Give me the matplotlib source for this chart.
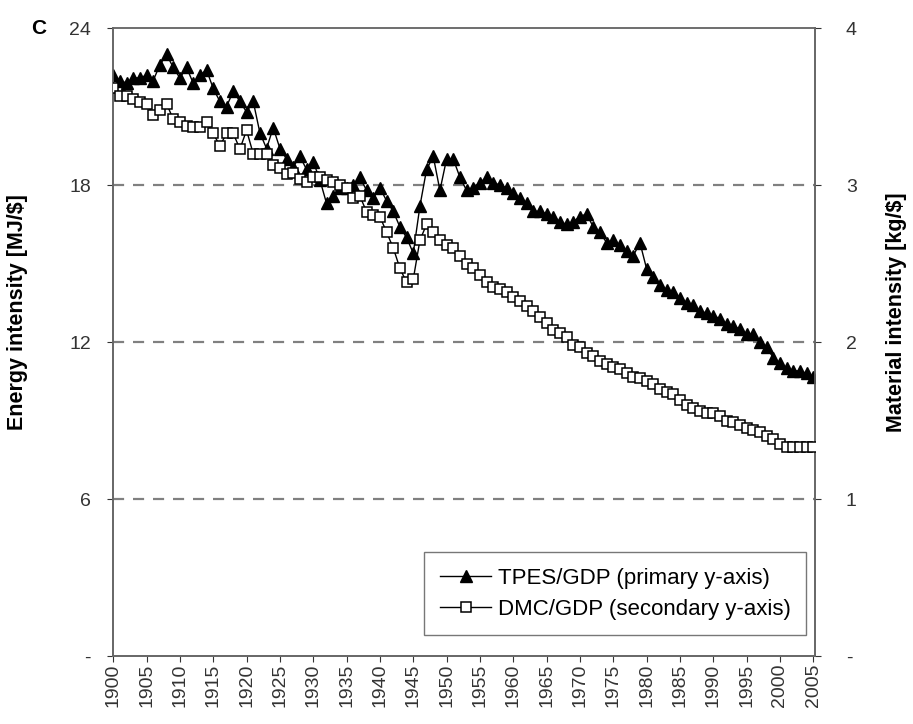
import matplotlib.pyplot as plt
import matplotlib.ticker as mticker

plt.switch_backend('Agg')
plt.rcParams['font.family'] = ['Liberation Sans', 'DejaVu Sans']

years = list(range(1900, 2006))

# TPES/GDP, energy intensity [MJ/$] (primary axis)
tpes_gdp = [
    22.2, 22.0, 21.9, 22.1, 22.1, 22.2, 22.0, 22.6, 23.0, 22.5,
    22.1, 22.5, 21.9, 22.2, 22.4, 21.7, 21.2, 21.0, 21.6, 21.2,
    20.8, 21.2, 20.0, 19.4, 20.2, 19.4, 19.0, 18.7, 19.1, 18.6,
    18.9, 18.2, 17.3, 17.6, 17.9, 17.9, 18.0, 18.3, 17.8, 17.5,
    17.9, 17.4, 17.0, 16.4, 16.0, 15.4, 17.2, 18.6, 19.1, 17.8,
    19.0, 19.0, 18.3, 17.8, 17.9, 18.1, 18.3, 18.1, 18.0, 17.9,
    17.7, 17.5, 17.3, 17.0, 17.0, 16.9, 16.8, 16.6, 16.5, 16.6,
    16.8, 16.9, 16.4, 16.2, 15.8, 15.9, 15.7, 15.5, 15.3, 15.8,
    14.8, 14.5, 14.2, 14.0, 13.9, 13.7, 13.5, 13.4, 13.2, 13.1,
    13.0, 12.9, 12.7, 12.6, 12.5, 12.3, 12.3, 12.0, 11.8, 11.4,
    11.2, 11.0, 10.9, 10.9, 10.8, 10.65,
]

# DMC/GDP, material intensity [kg/$] (secondary axis)
dmc_gdp = [
    3.62, 3.57, 3.57, 3.55, 3.53, 3.52, 3.45, 3.48, 3.52, 3.42,
    3.40, 3.38, 3.37, 3.37, 3.40, 3.33, 3.25, 3.33, 3.33, 3.23,
    3.35, 3.20, 3.20, 3.20, 3.13, 3.11, 3.07, 3.08, 3.04, 3.02,
    3.05, 3.05, 3.03, 3.02, 3.00, 2.98, 2.92, 2.93, 2.83, 2.81,
    2.80, 2.70, 2.60, 2.47, 2.38, 2.40, 2.65, 2.75, 2.70, 2.65,
    2.62, 2.60, 2.55, 2.50, 2.47, 2.43, 2.38, 2.35, 2.34, 2.32,
    2.29, 2.26, 2.23, 2.20, 2.16, 2.12, 2.08, 2.06, 2.03, 1.98,
    1.97, 1.93, 1.91, 1.88, 1.86, 1.84, 1.83, 1.80, 1.78, 1.77,
    1.75, 1.73, 1.70, 1.68, 1.67, 1.63, 1.60, 1.58, 1.56, 1.55,
    1.55, 1.53, 1.50, 1.49, 1.47, 1.45, 1.44, 1.43, 1.40, 1.38,
    1.35, 1.33, 1.33, 1.33, 1.33, 1.33,
]

energy_ticks = [0, 6, 12, 18, 24]
material_ticks = [0, 1, 2, 3, 4]
year_ticks = list(range(1900, 2006, 5))


def dash_zero(v, pos):
    # Excel-style: zero shown as a dash
    return '-' if v == 0 else f'{v:.0f}'


fig = plt.figure(figsize=(9.13, 7.24), dpi=100)
ax1 = fig.add_axes([0.124, 0.094, 0.769, 0.867])
ax2 = ax1.twinx()

# Dashed gridlines at 6, 12, 18
for v in energy_ticks[1:-1]:
    ax1.axhline(v, color='#808080', linestyle=(0, (5, 4)), linewidth=1.6, zorder=0)

ax1.plot(years, tpes_gdp, color='black', linewidth=1.0, marker='^',
         markersize=8.5, markerfacecolor='black', markeredgecolor='black',
         label='TPES/GDP (primary y-axis)', zorder=3)
ax2.plot(years, dmc_gdp, color='black', linewidth=1.0, marker='s',
         markersize=7, markerfacecolor='white', markeredgecolor='black',
         markeredgewidth=1.1, label='DMC/GDP (secondary y-axis)', zorder=3)

ax1.set_xlim(1900, 2005.3)
ax1.set_ylim(0, 24)
ax2.set_ylim(0, 4)

ax1.set_yticks(energy_ticks)
ax1.yaxis.set_major_formatter(mticker.FuncFormatter(dash_zero))
ax2.set_yticks(material_ticks)
ax2.yaxis.set_major_formatter(mticker.FuncFormatter(dash_zero))

ax1.set_xticks(year_ticks)
ax1.set_xticklabels([str(y) for y in year_ticks], rotation=90, fontsize=14)

ax1.tick_params(axis='y', labelsize=14, length=4, colors='#333333', pad=12)
ax2.tick_params(axis='y', labelsize=14, length=4, colors='#333333', pad=18)
ax1.tick_params(axis='x', length=4, colors='#333333', pad=1.5)

for ax in (ax1, ax2):
    for side in ('left', 'right', 'top', 'bottom'):
        ax.spines[side].set_color('#666666')
        ax.spines[side].set_linewidth(1.2)
ax1.spines['top'].set_color('#999999')

ax1.set_ylabel('Energy intensity [MJ/$]', fontsize=15.5, fontweight='bold')
ax1.yaxis.set_label_coords(-0.122, 0.548)
ax2.set_ylabel('Material intensity [kg/$]', fontsize=15.5, fontweight='bold')
ax2.yaxis.set_label_coords(1.10, 0.548)

fig.text(0.042, 0.961, 'C', fontsize=15, fontweight='bold', va='center', ha='center')

h1, l1 = ax1.get_legend_handles_labels()
h2, l2 = ax2.get_legend_handles_labels()
leg = ax2.legend(h1 + h2, l1 + l2, loc='lower right', bbox_to_anchor=(0.987, 0.033),
                 borderaxespad=0, fontsize=16, fancybox=False, framealpha=1,
                 edgecolor='#777777', handlelength=2.3, handletextpad=0.3,
                 borderpad=0.7, labelspacing=0.45)
leg.get_frame().set_linewidth(1.0)

fig.savefig('out.png', dpi=100, facecolor='white')
